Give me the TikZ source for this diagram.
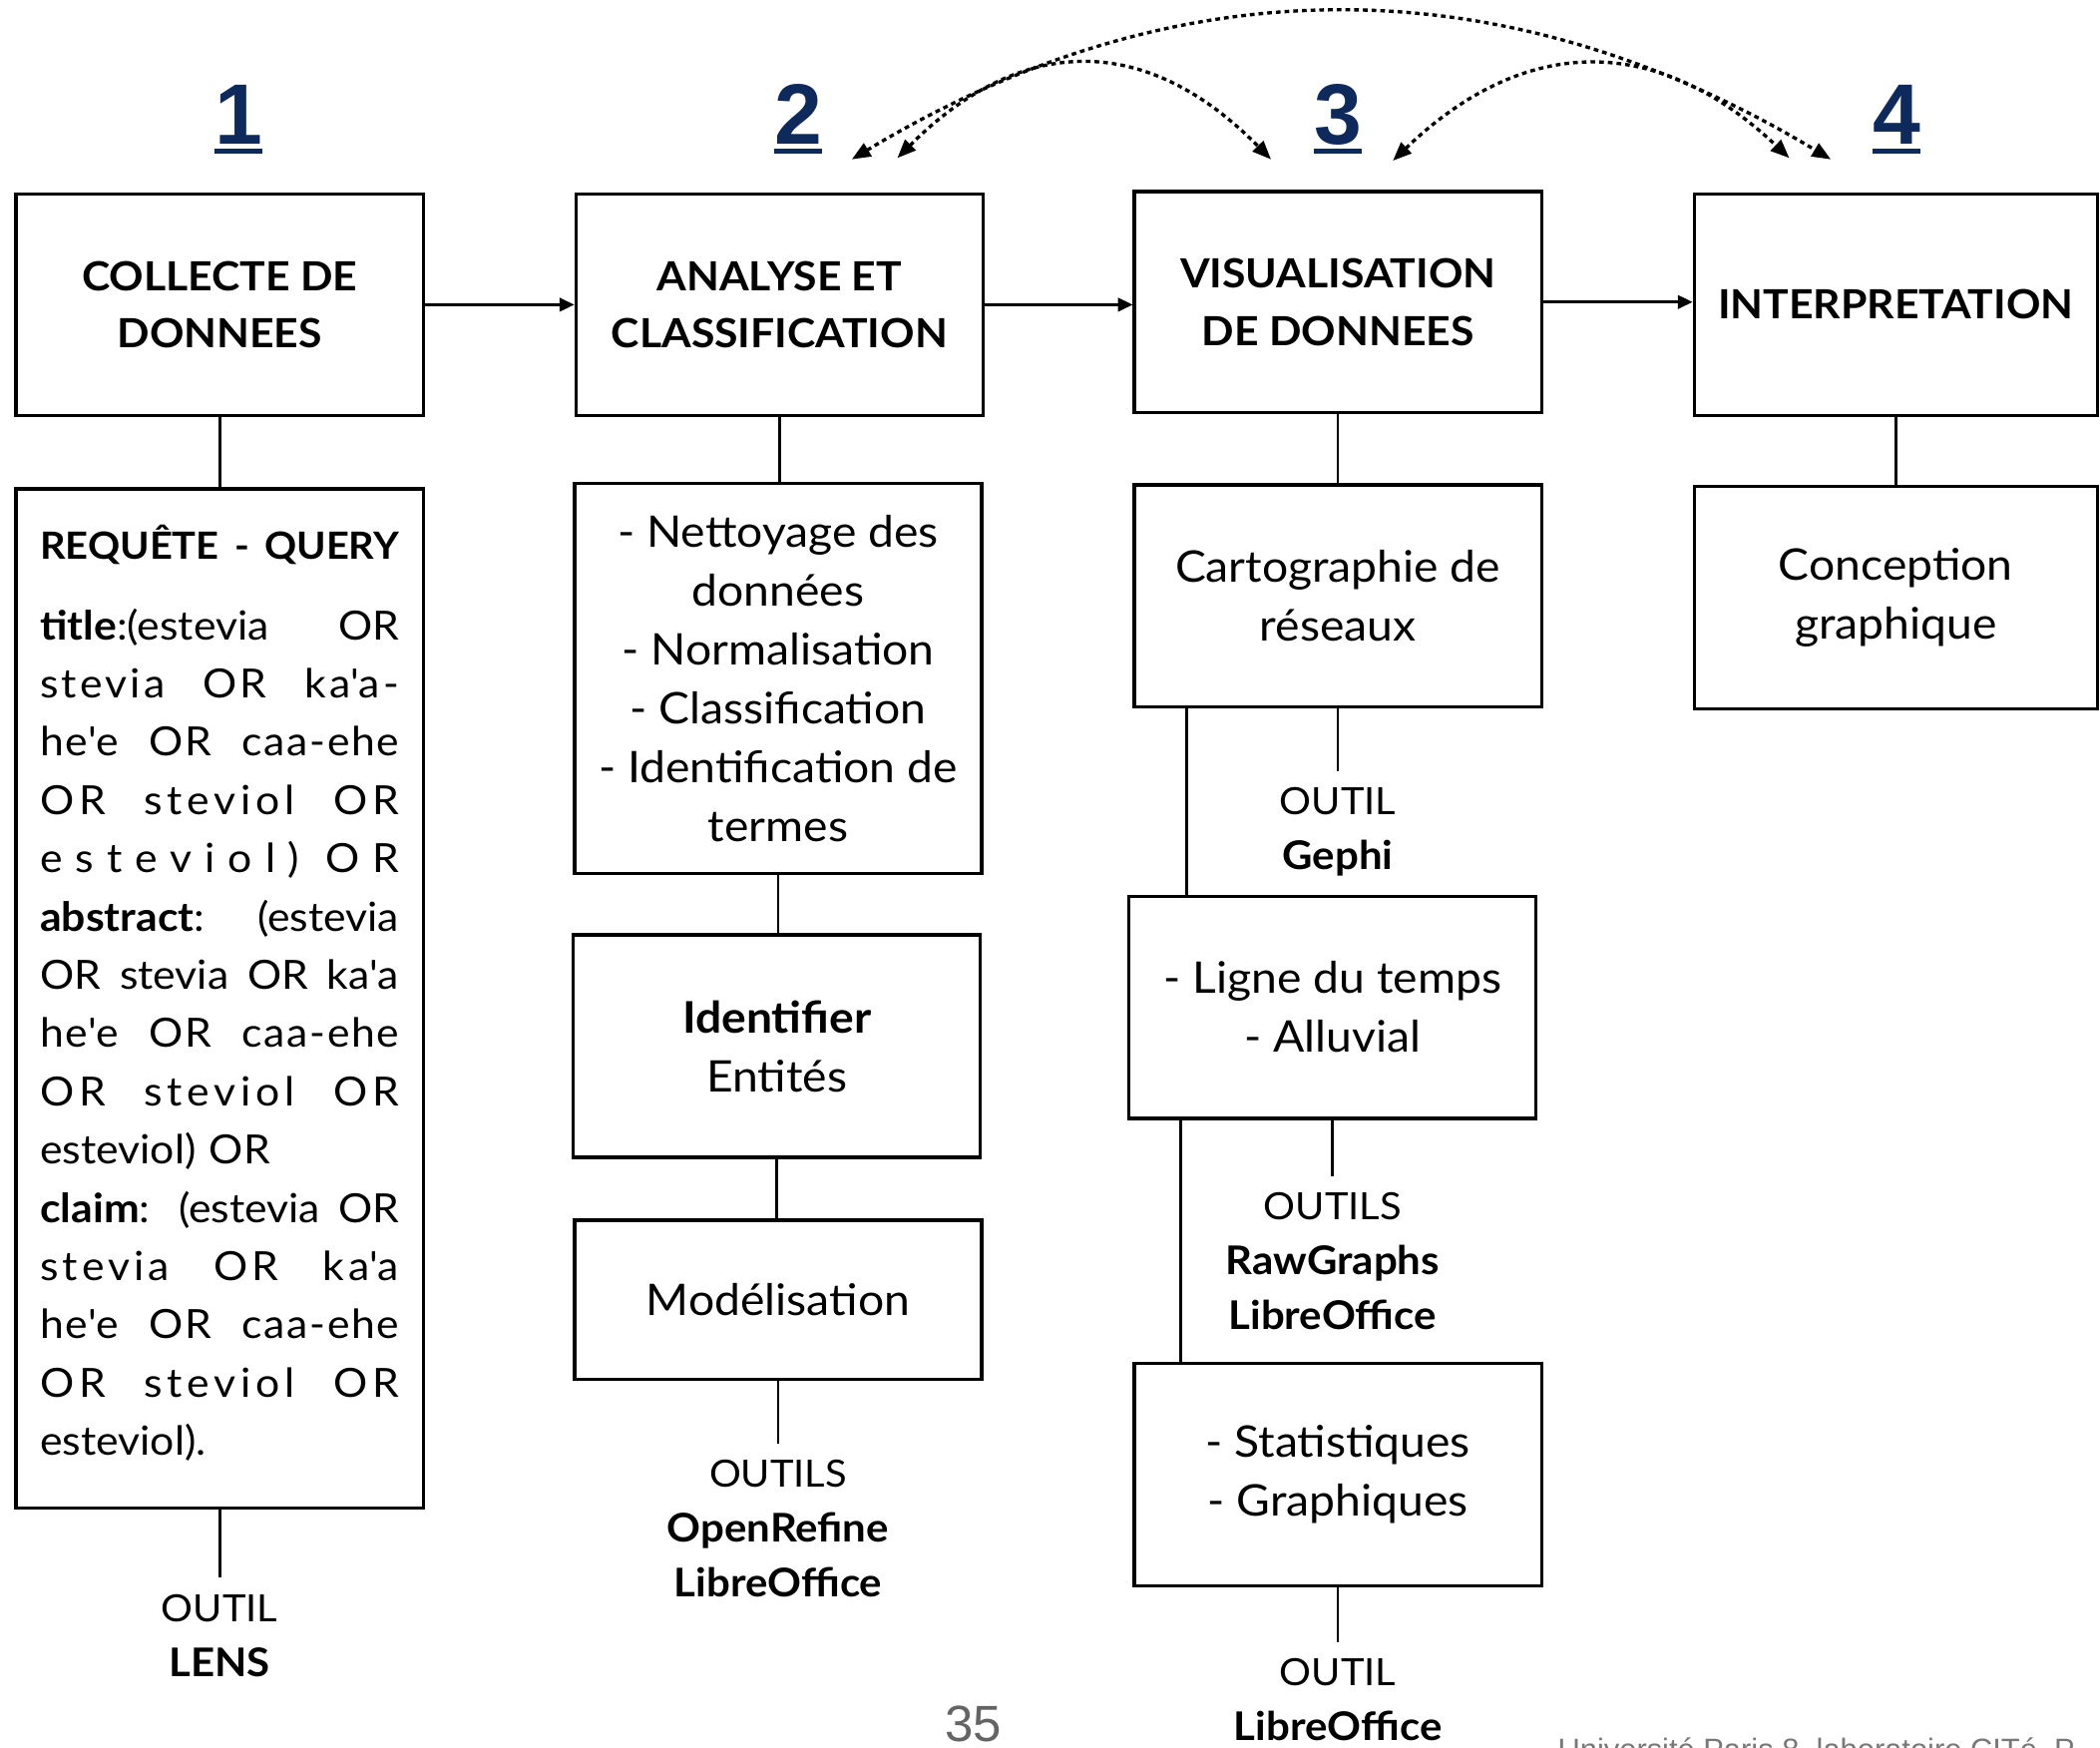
\documentclass[tikz,border=0pt]{standalone}
\usepackage{fontspec}
\setmainfont{Lato}[FakeStretch=1.06]
\newfontfamily\numfont{Liberation Sans}
\usetikzlibrary{arrows.meta}
\definecolor{navy}{RGB}{14,42,92}
\definecolor{pgray}{RGB}{100,100,100}
\definecolor{fgray}{RGB}{120,120,120}
\newcommand\ap{\textquotesingle}
\newcommand\jl[2][0]{{\spaceskip=0pt\xspaceskip=0pt\addfontfeatures{LetterSpace=#1}\makebox[268pt][s]{#2}}}
\begin{document}
\begin{tikzpicture}[x=1pt,y=-1pt,
  box/.style={draw, line width=2.4pt, minimum width=304pt, inner sep=0pt, align=center},
  head/.style={font=\fontsize{30}{43}\selectfont\bfseries},
  body/.style={font=\fontsize{32.5}{44}\selectfont},
  link/.style={line width=2pt},
  flow/.style={line width=2pt, -{Triangle[length=11pt,width=10pt]}},
  loopline/.style={line width=2.5pt, dash pattern=on 3.5pt off 3pt,
     {Triangle[length=14pt,width=11pt]}-{Triangle[length=14pt,width=11pt]}},
  num/.style={font=\numfont\bfseries\fontsize{64}{64}\selectfont, text=navy, inner sep=0pt, anchor=base},
  numline/.style={draw=navy, line width=4pt},
  tool/.style={font=\fontsize{28}{41}\selectfont, align=center, inner xsep=0pt, inner ysep=12pt, anchor=north},
]
\useasboundingbox (0,0) rectangle (1568,1305);

% step numbers
\node[num] (n1) at (178,108) {1};
\node[num] (n2) at (596,108) {2};
\node[num] (n3) at (999,108) {3};
\node[num] (n4) at (1416,108) {4};
\foreach \n in {n1,n2,n3,n4}
  \draw[numline] ([yshift=-5pt]\n.base west) -- ([yshift=-5pt]\n.base east);

% top boxes
\node[box, head, minimum height=165pt] (b1) at (164,227.5) {COLLECTE DE\\DONNEES};
\node[box, head, minimum height=165pt] (b2) at (582,227.5) {ANALYSE ET\\CLASSIFICATION};
\node[box, head, minimum height=165pt] (b3) at (999,225.5) {VISUALISATION\\DE DONNEES};
\node[box, head, minimum height=165pt, minimum width=301pt] (b4) at (1415.5,227.5) {INTERPRETATION};

% column 1
\node[box, minimum height=761pt] (q) at (164,745.5) {};
\node[text width=268pt, inner sep=0pt, align=left, font=\fontsize{30}{43.5}\selectfont] (qt) at (164,741.5) {%
\jl{\bfseries\fontsize{28}{43.5}\selectfont REQUÊTE - QUERY}\\[16.5pt]
\jl{\textbf{title}:(estevia OR}\\
\jl[8]{stevia OR ka\ap a-}\\
\jl[4]{he\ap e OR caa-ehe}\\
\jl[12]{OR steviol OR}\\
\makebox[268pt]{e\hfill s\hfill t\hfill e\hfill v\hfill i\hfill o\hfill l\hfill )\hfill\hfill O\hfill R}\\
\jl{\textbf{abstract}: (estevia}\\
\jl{OR stevia OR ka\ap a}\\
\jl[4]{he\ap e OR caa-ehe}\\
\jl[12]{OR steviol OR}\\
esteviol) OR\\
\jl{\textbf{claim}: (estevia OR}\\
\jl[10]{stevia OR ka\ap a}\\
\jl[4]{he\ap e OR caa-ehe}\\
\jl[12]{OR steviol OR}\\
esteviol).};
\node[tool] (t1) at (164,1178) {OUTIL\\{\bfseries\fontsize{29.5}{41}\selectfont LENS}};

% column 2
\node[box, body, minimum height=291pt] (c2a) at (581,506.5) {- Nettoyage des\\données\\- Normalisation\\- Classification\\- Identification de\\termes};
\node[box, body, minimum height=166pt] (c2b) at (580,781) {\textbf{Identifier}\\Entités};
\node[box, body, minimum height=119pt] (c2c) at (581,970.5) {Modélisation};
\node[tool] (t2) at (581,1078) {OUTILS\\{\bfseries\fontsize{29.5}{41}\selectfont OpenRefine}\\{\bfseries\fontsize{29.5}{41}\selectfont LibreOffice}};

% column 3
\node[box, body, minimum height=166pt] (c3a) at (999,445) {Cartographie de\\réseaux};
\node[tool] (t3a) at (999,576) {OUTIL\\{\bfseries\fontsize{29.5}{41}\selectfont Gephi}};
\node[box, body, minimum height=166pt] (c3b) at (995,752) {- Ligne du temps\\- Alluvial};
\node[tool] (t3b) at (995,878) {OUTILS\\{\bfseries\fontsize{29.5}{41}\selectfont RawGraphs}\\{\bfseries\fontsize{29.5}{41}\selectfont LibreOffice}};
\node[box, body, minimum height=166pt] (c3c) at (999,1101) {- Statistiques\\- Graphiques};
\node[tool] (t3c) at (999,1226) {OUTIL\\{\bfseries\fontsize{29.5}{41}\selectfont LibreOffice}};

% column 4
\node[box, body, minimum height=166pt, minimum width=301pt] (c4) at (1415.5,446) {Conception\\graphique};

% flow arrows
\draw[flow] (b1.east) -- (b1.east -| b2.west);
\draw[flow] (b2.east) -- (b2.east -| b3.west);
\draw[flow] (b3.east) -- (b3.east -| b4.west);

% vertical links
\draw[link] (b1.south) -- (q.north);
\draw[link] (q.south) -- (t1.north);
\draw[link] (b2.south) -- (b2.south |- c2a.north);
\draw[link] (c2a.south) -- (c2a.south |- c2b.north);
\draw[link] (c2b.south) -- (c2b.south |- c2c.north);
\draw[link] (c2c.south) -- (t2.north);
\draw[link] (b3.south) -- (c3a.north);
\draw[link] (c3a.south) -- (t3a.north);
\draw[link] ([xshift=40pt]c3a.south west) -- ([xshift=44pt]c3b.north west);
\draw[link] (c3b.south) -- (t3b.north);
\draw[link] ([xshift=40pt]c3b.south west) -- ([xshift=36pt]c3c.north west);
\draw[link] (c3c.south) -- (t3c.north);
\draw[link] (b4.south) -- (c4.north);

% feedback loops
\coordinate (p2a) at (636,119);
\coordinate (p2b) at (670,118);
\coordinate (p3a) at (949,119);
\coordinate (p3b) at (1040,120);
\coordinate (p4a) at (1336,118);
\coordinate (p4b) at (1367,119);
\draw[loopline] (p2a) .. controls (879.3,-27.7) and (1123,-27.7) .. (p4b);
\draw[loopline] (p2b) .. controls (763.3,24.7) and (856.3,24.7) .. (p3a);
\draw[loopline] (p3b) .. controls (1138.7,25.3) and (1237.3,24.7) .. (p4a);

% page number and footer
\node[font=\numfont\fontsize{38}{38}\selectfont, text=pgray, anchor=base, inner sep=0pt] (pg) at (727,1300) {35};
\node[font=\numfont\fontsize{23}{23}\selectfont, text=fgray, anchor=base west, inner sep=0pt] (ft) at (1163,1314) {Université Paris 8, laboratoire CITé, P};
\end{tikzpicture}
\end{document}
